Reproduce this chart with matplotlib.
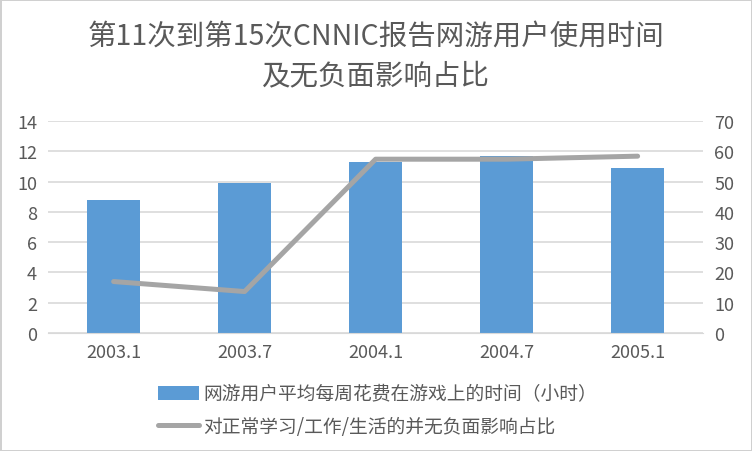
import matplotlib.pyplot as plt
import numpy as np

plt.rcParams['font.family'] = ['Noto Sans CJK SC', 'DejaVu Sans']

periods = ['2003.1', '2003.7', '2004.1', '2004.7', '2005.1']
hours = [8.8, 9.9, 11.3, 11.7, 10.9]
no_harm_pct = [17.0, 13.7, 57.4, 57.4, 58.4]
names = ('网游用户平均每周花费在游戏上的时间（小时）', '对正常学习/工作/生活的并无负面影响占比')
title = '第11次到第15次CNNIC报告网游用户使用时间\n及无负面影响占比'

text_c = '#595959'
grid_c = '#D9D9D9'

fig = plt.figure(figsize=(7.52, 4.52), dpi=100)
fig.patch.set_edgecolor('#D0D0D0')
fig.patch.set_linewidth(2)
ax = fig.add_axes([0.064, 0.261, 0.871, 0.469])
ax2 = ax.twinx()

index = np.arange(len(periods))
bars = ax.bar(index, hours, 0.4, color='#5B9BD5', label=names[0], zorder=2)
line, = ax2.plot(index, no_harm_pct, color='#A5A5A5', lw=3.6, label=names[1],
                 solid_capstyle='round', zorder=3)

ax.set_xlim(-0.5, len(periods) - 0.5)
ax.set_ylim(0, 14)
ax.set_yticks(range(0, 15, 2))
ax2.set_ylim(0, 70)
ax2.set_yticks(range(0, 71, 10))
ax.set_xticks(index, periods)

ax.grid(axis='y', color=grid_c, lw=1.2, zorder=0)
ax.set_axisbelow(True)
for a in (ax, ax2):
    for s in a.spines.values():
        s.set_visible(False)
    a.tick_params(length=0, labelsize=13, colors=text_c, pad=8)
ax.spines['bottom'].set_visible(True)
ax.spines['bottom'].set_color(grid_c)
ax.tick_params(axis='x', pad=7)

fig.text(0.5, 0.952, title, ha='center', va='top', fontsize=20.5, color=text_c,
         linespacing=1.4)

fig.legend([bars, line], names, loc='upper left', bbox_to_anchor=(0.197, 0.17),
           frameon=False, prop={'size': 13.5}, labelcolor=text_c,
           handlelength=2.2, handletextpad=0.25, labelspacing=0.6, borderpad=0)

fig.savefig('out.png', dpi=100)
